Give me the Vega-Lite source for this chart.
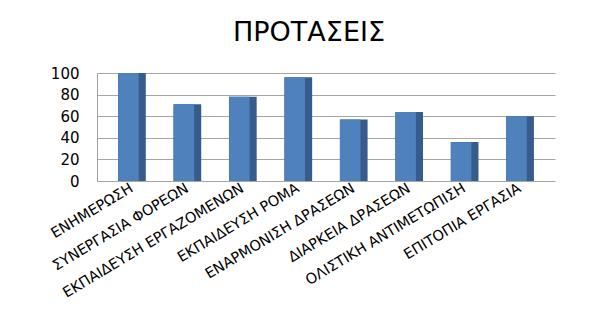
{
  "$schema": "https://vega.github.io/schema/vega-lite/v6.json",
  "autosize": {"type": "none"},
  "width": 458,
  "height": 108,
  "padding": {"left": 97, "top": 73, "right": 39, "bottom": 132},
  "background": "white",
  "title": {
    "text": "ΠΡΟΤΑΣΕΙΣ",
    "font": "DejaVu Sans",
    "fontSize": 27,
    "fontWeight": "normal",
    "color": "#000000",
    "offset": 19,
    "dx": -17
  },
  "data": {
    "values": [
      {"k": "ΕΝΗΜΕΡΩΣΗ", "v": 100},
      {"k": "ΣΥΝΕΡΓΑΣΙΑ ΦΟΡΕΩΝ", "v": 71},
      {"k": "ΕΚΠΑΙΔΕΥΣΗ ΕΡΓΑΖΟΜΕΝΩΝ", "v": 78},
      {"k": "ΕΚΠΑΙΔΕΥΣΗ ΡΟΜΑ", "v": 96},
      {"k": "ΕΝΑΡΜΟΝΙΣΗ ΔΡΑΣΕΩΝ", "v": 57},
      {"k": "ΔΙΑΡΚΕΙΑ ΔΡΑΣΕΩΝ", "v": 64},
      {"k": "ΟΛΙΣΤΙΚΗ ΑΝΤΙΜΕΤΩΠΙΣΗ", "v": 36},
      {"k": "ΕΠΙΤΟΠΙΑ ΕΡΓΑΣΙΑ", "v": 60}
    ]
  },
  "encoding": {
    "x": {
      "field": "k",
      "type": "nominal",
      "sort": null,
      "scale": {"paddingInner": 0, "paddingOuter": 0.13},
      "axis": {
        "title": null,
        "labelAngle": -31,
        "labelAlign": "right",
        "labelBaseline": "middle",
        "labelFont": "DejaVu Sans",
        "labelFontSize": 14.5,
        "labelColor": "#000000",
        "labelPadding": 6,
        "ticks": false,
        "domain": false,
        "labelOverlap": false,
        "labelLimit": 400
      }
    },
    "y": {
      "field": "v",
      "type": "quantitative",
      "scale": {"domain": [0, 100]},
      "axis": {
        "title": null,
        "values": [0, 20, 40, 60, 80, 100],
        "labelFont": "DejaVu Sans",
        "labelFontSize": 15,
        "labelColor": "#000000",
        "labelPadding": 18,
        "ticks": false,
        "domainColor": "#a0a0a0",
        "gridColor": "#a6a6a6",
        "gridWidth": 1
      }
    }
  },
  "layer": [
    {
      "mark": {"type": "bar", "color": "#375c8c", "width": {"band": 0.5}},
      "encoding": {}
    },
    {
      "mark": {"type": "bar", "color": "#4f81bd", "width": {"band": 0.37}},
      "encoding": {"xOffset": {"value": -3.5}}
    }
  ],
  "config": {
    "view": {"stroke": null}
  }
}
